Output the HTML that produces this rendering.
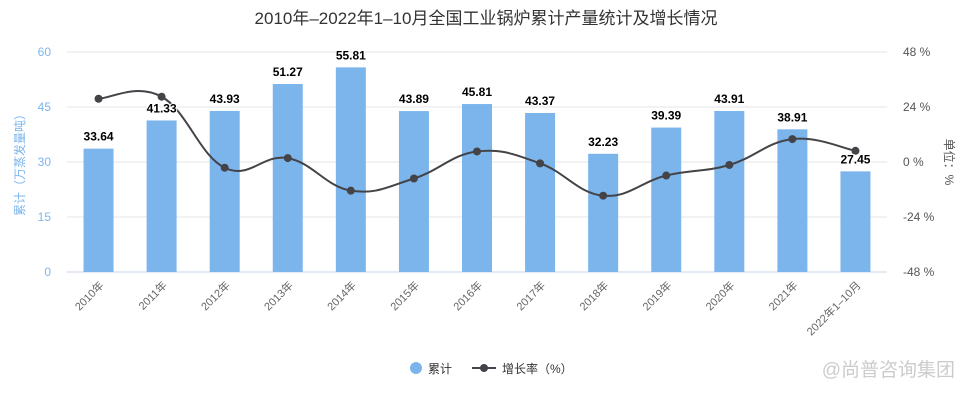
<!DOCTYPE html>
<html><head><meta charset="utf-8"><style>
body{margin:0;background:#fff;}
svg{font-family:"Liberation Sans","Noto Sans CJK SC",sans-serif;}
</style></head><body>
<svg id="c" width="972" height="400" viewBox="0 0 972 400">
<text x="486" y="24" text-anchor="middle" font-size="17" fill="#333">2010年–2022年1–10月全国工业锅炉累计产量统计及增长情况</text>
<g id="grid"></g><g id="bars"></g><g id="line"></g><g id="labels"></g>
<text transform="translate(24,162) rotate(-90)" text-anchor="middle" font-size="12" fill="#7cb5ec">累计（万蒸发量吨）</text>
<text transform="translate(945,162) rotate(90)" text-anchor="middle" font-size="12" fill="#555">单位：%</text>
<g>
<circle cx="416" cy="368" r="6" fill="#7cb5ec"/>
<text x="428" y="373" font-size="12" fill="#333">累计</text>
<line x1="472" y1="368" x2="496" y2="368" stroke="#434348" stroke-width="2"/>
<circle cx="484" cy="368" r="4" fill="#434348"/>
<text x="502" y="373" font-size="12" fill="#333">增长率（%）</text>
</g>
<text x="955" y="376" text-anchor="end" font-size="19" fill="#ccc">@尚普咨询集团</text>
</svg>
<script>
const categories=["2010年","2011年","2012年","2013年","2014年","2015年","2016年","2017年","2018年","2019年","2020年","2021年","2022年1–10月"];
const totals=[33.64,41.33,43.93,51.27,55.81,43.89,45.81,43.37,32.23,39.39,43.91,38.91,27.45];
const growth=[27.6,28.5,-2.5,1.7,-12.5,-7.2,4.6,-0.6,-14.7,-5.9,-1.3,10.0,4.9];
const leftTicks=[0,15,30,45,60];
const rightTicks=[-48,-24,0,24,48];
const NS="http://www.w3.org/2000/svg";
const X0=67,X1=887,Y0=272,Y1=52,band=(X1-X0)/categories.length;
const xc=i=>X0+band*(i+0.5);
const yl=v=>Y0-(v/60)*(Y0-Y1);
const yr=v=>Y0-((v+48)/96)*(Y0-Y1);
function mk(tag,attrs,parent,txt){const e=document.createElementNS(NS,tag);for(const k in attrs)e.setAttribute(k,attrs[k]);if(txt!=null)e.textContent=txt;document.getElementById(parent).appendChild(e);return e;}
leftTicks.forEach((t,i)=>{
 const l=mk('line',{x1:X0,x2:X1,y1:yl(t),y2:yl(t),stroke:i==0?'#c8d6e8':'#e6e6e6','stroke-width':1},'grid');
 
 
 const tx=mk('text',{x:51,y:yl(t)+4,'text-anchor':'end','font-size':12,fill:'#7cb5ec'},'grid',t);
 
 
});
rightTicks.forEach(t=>{
 const tx=mk('text',{x:903,y:yr(t)+4,'font-size':12,fill:'#555'},'grid',t+' %');
 
 
});
categories.forEach((c,i)=>{
 const tx=mk('text',{x:0,y:0,'text-anchor':'end','font-size':11,fill:'#666',transform:`translate(${xc(i)+6},${286}) rotate(-45)`},'labels',c);
 
 
});
totals.forEach((v,i)=>{
 const r=mk('rect',{x:xc(i)-15,y:yl(v),width:30,height:Y0-yl(v),fill:'#7cb5ec'},'bars');
 
 
});
const pts=growth.map((g,i)=>[xc(i),yr(g)]);
let d=`M${pts[0][0]},${pts[0][1]}`;
for(let i=0;i<pts.length-1;i++){
 const p0=pts[Math.max(i-1,0)],p1=pts[i],p2=pts[i+1],p3=pts[Math.min(i+2,pts.length-1)];
 const t=0.2;
 d+=` C${p1[0]+(p2[0]-p0[0])*t},${p1[1]+(p2[1]-p0[1])*t} ${p2[0]-(p3[0]-p1[0])*t},${p2[1]-(p3[1]-p1[1])*t} ${p2[0]},${p2[1]}`;
}
const path=mk('path',{d:d,fill:'none',stroke:'#434348','stroke-width':2},'line');


pts.forEach(p=>{
 const c=mk('circle',{cx:p[0],cy:p[1],r:4,fill:'#434348'},'line');
 
 
});
totals.forEach((v,i)=>{
 const tx=mk('text',{x:xc(i),y:yl(v)-8,'text-anchor':'middle','font-size':12,'font-weight':'bold',fill:'#000',stroke:'#fff','stroke-width':2,'paint-order':'stroke'},'labels',v.toFixed(2));
 
 
});
</script>
</body></html>
